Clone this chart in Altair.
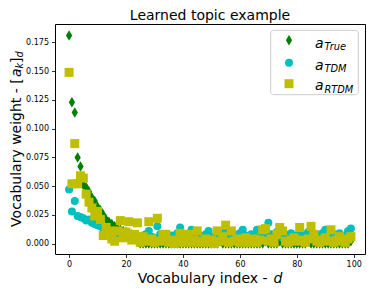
import altair as alt
import pandas as pd

idx = list(range(100))

a_true = [0.181, 0.123, 0.114, 0.075, 0.067, 0.051, 0.049, 0.045, 0.040, 0.037,
          0.032, 0.029, 0.025, 0.021, 0.019, 0.017, 0.015, 0.013, 0.012, 0.011,
          0.010, 0.009, 0.008, 0.007, 0.006] + [0.0] * 75
for k in (53, 69, 74, 84, 99):
    a_true[k] = 0.002

a_tdm = [0.047, 0.028, 0.037, 0.024, 0.023, 0.022, 0.020, 0.021, 0.018, 0.017,
         0.016, 0.015, 0.013, 0.012, 0.011, 0.010, 0.009, 0.008, 0.009, 0.007,
         0.008, 0.006, 0.007, 0.005, 0.006, 0.004, 0.007, 0.008, 0.011, 0.006,
         0.005, 0.015, 0.008, 0.005, 0.006, 0.004, 0.007, 0.005, 0.009, 0.014,
         0.006, 0.005, 0.008, 0.012, 0.006, 0.004, 0.007, 0.005, 0.008, 0.011,
         0.006, 0.004, 0.007, 0.005, 0.009, 0.011, 0.006, 0.005, 0.008, 0.006,
         0.009, 0.012, 0.007, 0.005, 0.008, 0.006, 0.012, 0.007, 0.005, 0.009,
         0.018, 0.008, 0.006, 0.010, 0.007, 0.005, 0.008, 0.006, 0.009, 0.006,
         0.007, 0.005, 0.008, 0.006, 0.010, 0.007, 0.005, 0.008, 0.006, 0.009,
         0.012, 0.007, 0.005, 0.008, 0.006, 0.009, 0.005, 0.007, 0.011, 0.013]

a_rtdm = [0.149, 0.052, 0.087, 0.052, 0.059, 0.057, 0.043, 0.036, 0.031, 0.024,
          0.028, 0.021, 0.007, 0.014, 0.011, 0.004, 0.002, 0.011, 0.020, 0.005,
          0.010, 0.019, 0.003, 0.008, 0.018, 0.001, 0.006, 0.002, 0.019, 0.004,
          0.001, 0.022, 0.002, 0.008, 0.008, 0.001, 0.003, 0.000, 0.002, 0.009,
          0.001, 0.005, 0.008, 0.001, 0.003, 0.011, 0.001, 0.002, 0.004, 0.001,
          0.003, 0.000, 0.011, 0.002, 0.006, 0.016, 0.001, 0.011, 0.002, 0.004,
          0.001, 0.003, 0.005, 0.001, 0.002, 0.004, 0.001, 0.003, 0.012, 0.013,
          0.002, 0.004, 0.001, 0.008, 0.014, 0.011, 0.002, 0.001, 0.003, 0.005,
          0.002, 0.014, 0.003, 0.001, 0.004, 0.015, 0.008, 0.002, 0.001, 0.003,
          0.005, 0.002, 0.012, 0.001, 0.003, 0.006, 0.002, 0.001, 0.004, 0.006]

x_ticks = [0, 20, 40, 60, 80, 100]
y_ticks = [0.0, 0.025, 0.05, 0.075, 0.1, 0.125, 0.15, 0.175]

GREEN = "#008000"
CYAN = "#00bfbf"
OLIVE = "#bfbf00"
THIN_DIAMOND = "M0,-1L0.6,0L0,1L-0.6,0Z"
FONT = "DejaVu Sans"

xscale = alt.Scale(domain=[-4.95, 103.95], nice=False, zero=False)
yscale = alt.Scale(domain=[-0.0091, 0.1911], nice=False, zero=False)

xaxis = alt.Axis(values=x_ticks, format="d", title=None)
yaxis = alt.Axis(values=y_ticks, format=".3f", title=None)


def scatter(vals, color, shape, size):
    df = pd.DataFrame({"d": idx, "w": vals})
    return alt.Chart(df).mark_point(
        filled=True, color=color, shape=shape, size=size, opacity=1, strokeWidth=0
    ).encode(
        x=alt.X("d:Q", scale=xscale, axis=xaxis),
        y=alt.Y("w:Q", scale=yscale, axis=yaxis),
    )


one = alt.Data(values=[{"k": 1}])


def txt(s, x, y, size=14, italic=False, angle=0, align="left"):
    kw = dict(font=FONT, fontSize=size, align=align, baseline="alphabetic",
              color="black")
    if italic:
        kw["fontStyle"] = "italic"
    if angle:
        kw["angle"] = angle
    return alt.Chart(one).mark_text(**kw).encode(
        x=alt.value(x), y=alt.value(y), text=alt.value(s)
    )


def sym(shape, color, size, x, y):
    return alt.Chart(one).mark_point(
        filled=True, shape=shape, color=color, size=size, opacity=1, strokeWidth=0
    ).encode(x=alt.value(x), y=alt.value(y))


legend_box = alt.Chart(one).mark_rect(
    fill="white", fillOpacity=0.8, stroke="#cccccc", strokeWidth=1, cornerRadius=3
).encode(x=alt.value(215.7), x2=alt.value(303.3), y=alt.value(6.3), y2=alt.value(70.7))

YB = -34.5
layers = [
    scatter(a_true, GREEN, THIN_DIAMOND, 110),
    scatter(a_tdm, CYAN, "circle", 64),
    scatter(a_rtdm, OLIVE, "square", 81),
    legend_box,
    sym(THIN_DIAMOND, GREEN, 110, 234, 16.3),
    sym("circle", CYAN, 64, 234, 38.7),
    sym("square", OLIVE, 81, 234, 59.7),
    txt("a", 260, 23.8, italic=True),
    txt("True", 269.5, 26.0, size=9.8, italic=True),
    txt("a", 260, 45.7, italic=True),
    txt("TDM", 269.5, 47.9, size=9.8, italic=True),
    txt("a", 260, 66.3, italic=True),
    txt("RTDM", 269.5, 68.5, size=9.8, italic=True),
    # title
    txt("Learned topic example", 155, -4.3, align="center"),
    # x title
    txt("Vocabulary index - ", 82.7, 259),
    txt("d", 218.4, 259, italic=True),
    # y title (rotated)
    txt("Vocabulary weight - [", YB, 202.9, angle=270),
    txt("a", YB, 53.1, italic=True, angle=270),
    txt("k", YB + 2.5, 44.5, size=9.8, italic=True, angle=270),
    txt("]", YB, 38.9, angle=270),
    txt("d", YB + 2.5, 33.4, size=9.8, italic=True, angle=270),
]

chart = alt.layer(*layers).properties(
    width=310,
    height=230,
    autosize=alt.AutoSizeParams(type="none"),
    padding={"left": 47, "top": 16, "right": 1, "bottom": 32},
).configure_view(
    stroke="black", strokeWidth=1
).configure_axis(
    grid=False, domain=False, ticks=True, tickColor="black", tickSize=3.5,
    tickWidth=0.8, labelFont=FONT, labelFontSize=8, labelColor="black",
    labelPadding=3,
)

chart.save("out.html", embed_options={"renderer": "svg", "actions": False})
